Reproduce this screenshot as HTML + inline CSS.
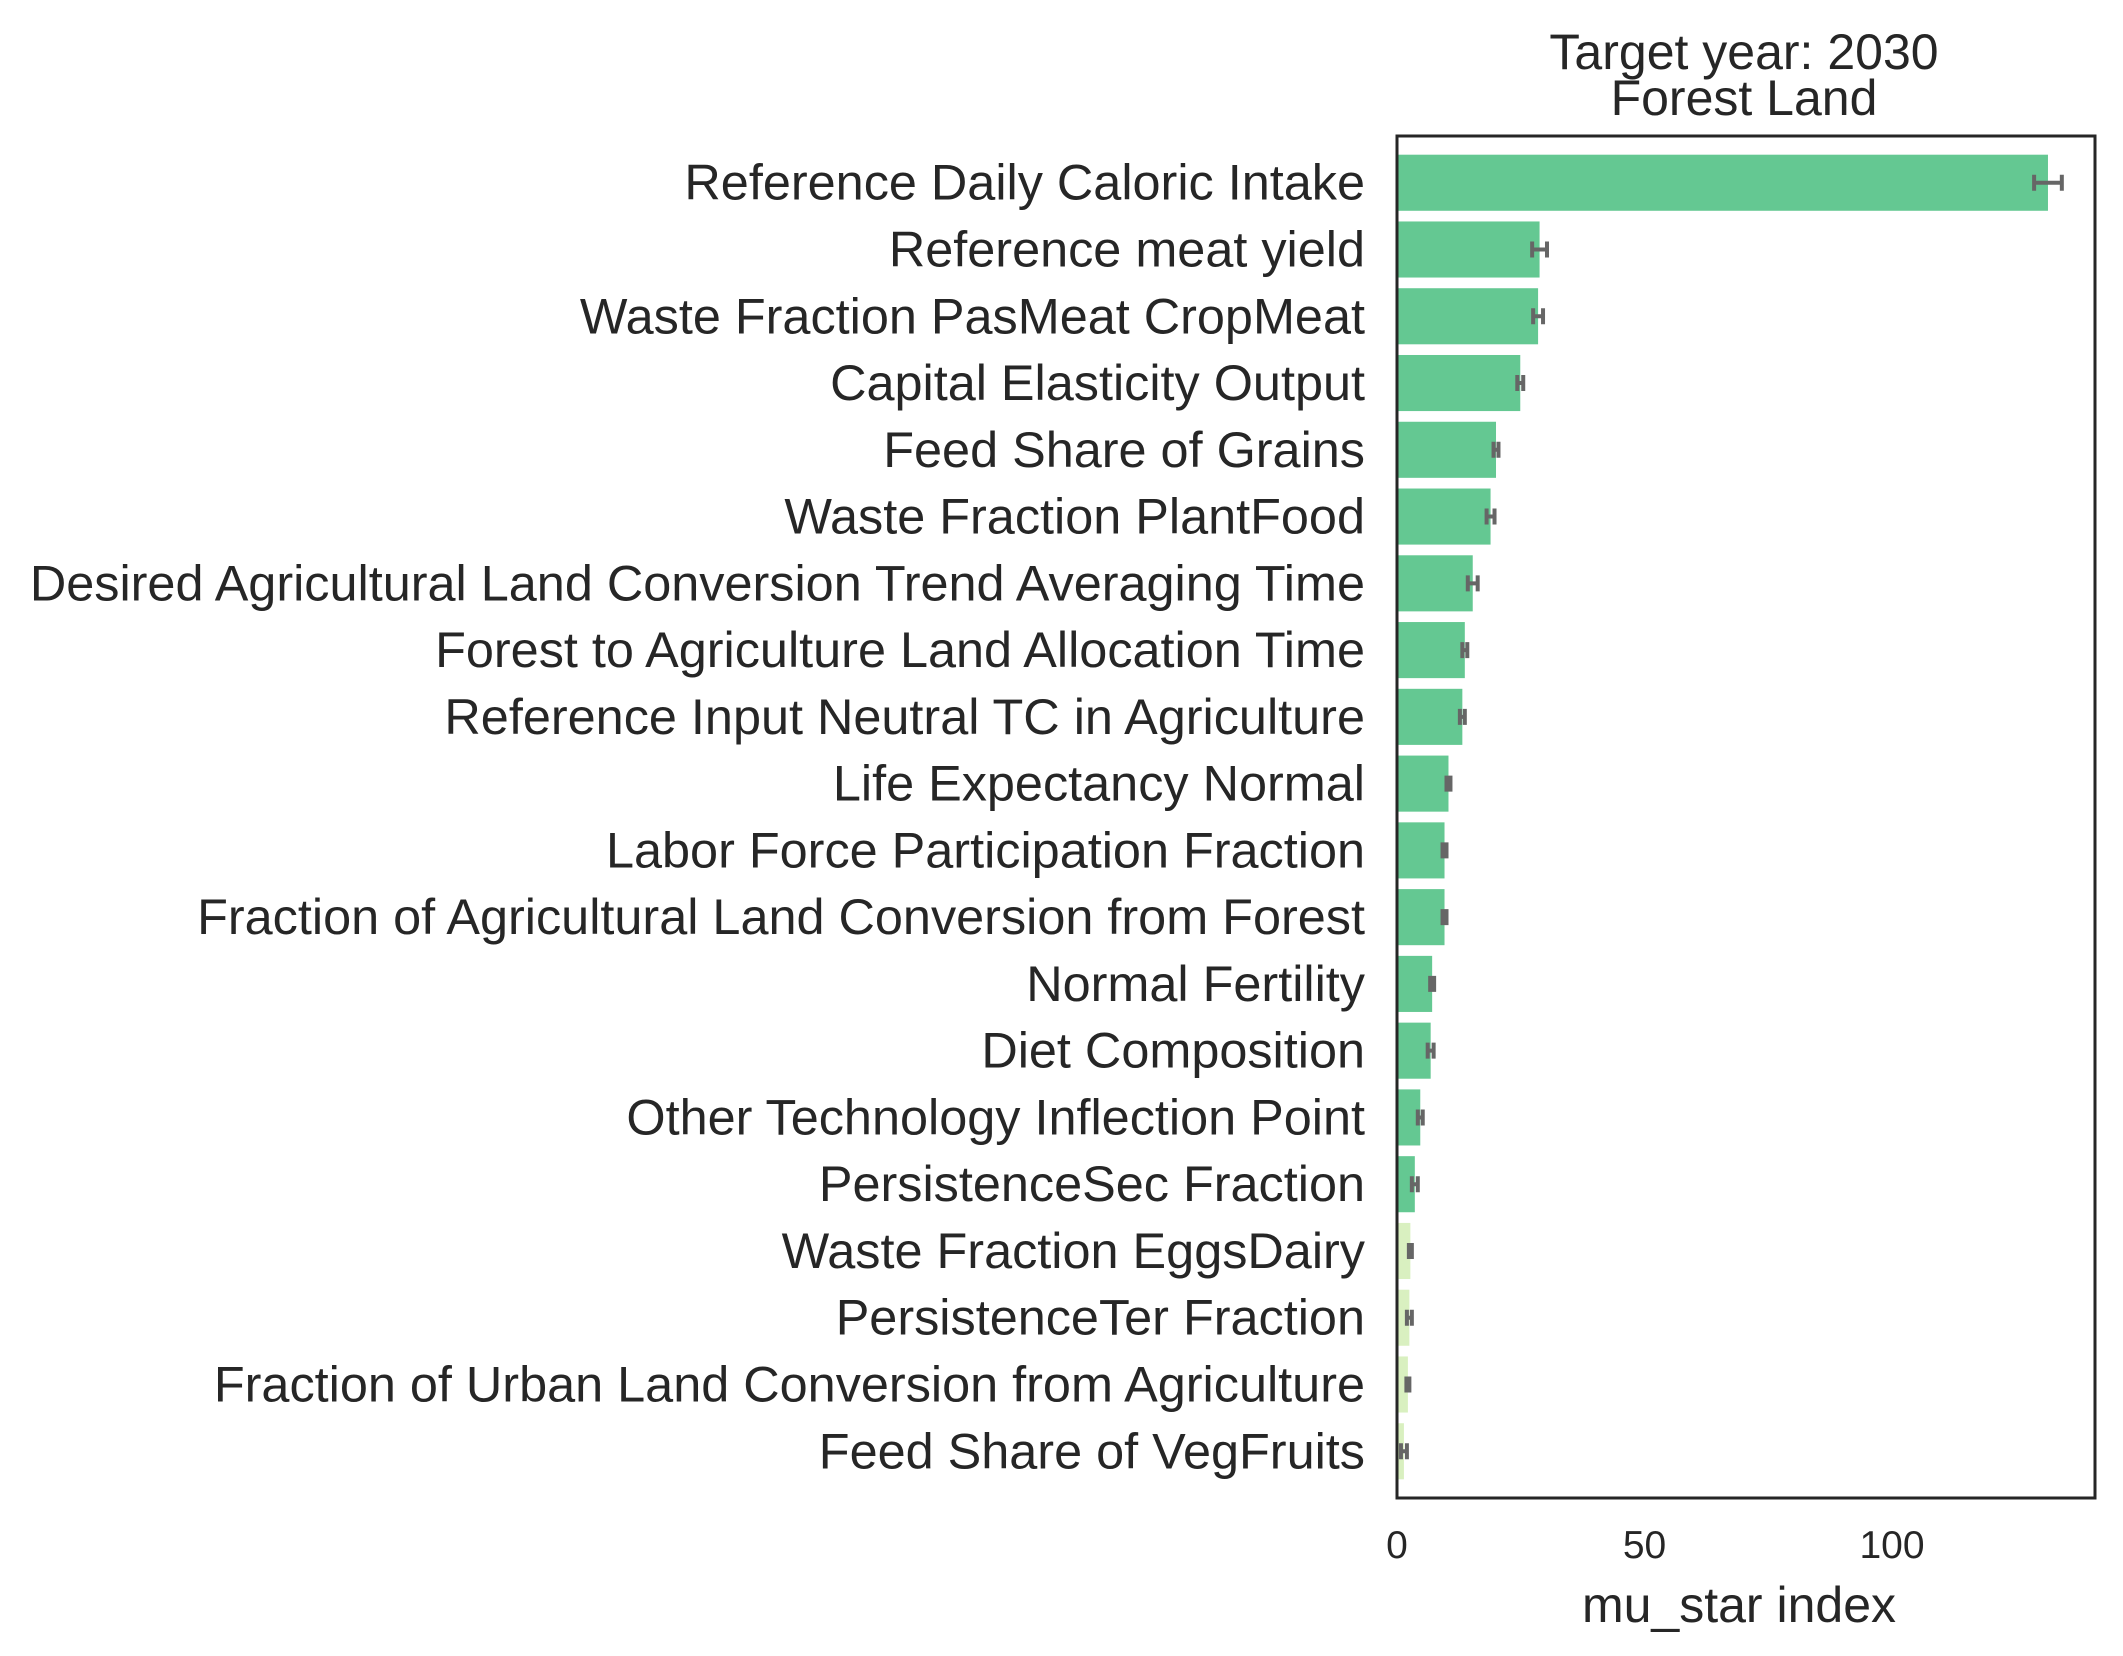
<!DOCTYPE html>
<html><head><meta charset="utf-8"><style>
html,body{margin:0;padding:0;background:#fff;}
svg{display:block;font-family:"Liberation Sans",Arial,sans-serif;}
</style></head><body>
<svg id="chart" width="2123" height="1656" viewBox="0 0 2123 1656" xmlns="http://www.w3.org/2000/svg">
<rect width="2123" height="1656" fill="#fff"/>
<g id="plot"></g>
</svg>
<script>
const categories = ["Reference Daily Caloric Intake","Reference meat yield","Waste Fraction PasMeat CropMeat","Capital Elasticity Output","Feed Share of Grains","Waste Fraction PlantFood","Desired Agricultural Land Conversion Trend Averaging Time","Forest to Agriculture Land Allocation Time","Reference Input Neutral TC in Agriculture","Life Expectancy Normal","Labor Force Participation Fraction","Fraction of Agricultural Land Conversion from Forest","Normal Fertility","Diet Composition","Other Technology Inflection Point","PersistenceSec Fraction","Waste Fraction EggsDairy","PersistenceTer Fraction","Fraction of Urban Land Conversion from Agriculture","Feed Share of VegFruits"];
const muStar = [131.5,28.8,28.5,24.9,20.0,18.9,15.3,13.7,13.2,10.4,9.6,9.6,7.1,6.8,4.7,3.6,2.7,2.5,2.2,1.4];
const muStarConf = [2.8,1.5,1.0,0.6,0.5,0.8,1.0,0.5,0.5,0.4,0.4,0.4,0.4,0.6,0.5,0.6,0.3,0.5,0.3,0.6];
const highlight = [1,1,1,1,1,1,1,1,1,1,1,1,1,1,1,1,0,0,0,0];
const xTicks = [0,50,100];

const NS="http://www.w3.org/2000/svg";
const L=1397,R=2095,T=136,B=1498;
const xMax=141;
const x=v=>L+v/xMax*(R-L);
const y0=-0.7,y1=categories.length-0.3;
const y=i=>T+(i-y0)/(y1-y0)*(B-T);
const bh=0.84*(y(1)-y(0));
const g=document.getElementById('plot');
function el(t,a){const e=document.createElementNS(NS,t);for(const k in a)e.setAttribute(k,a[k]);g.appendChild(e);return e;}

categories.forEach((c,i)=>{
  const r=el('rect',{x:L,y:y(i)-bh/2,width:x(muStar[i])-L,height:bh,fill:highlight[i]?'#64c892':'#d9f0c0'});
  
  
  const lo=x(muStar[i]-muStarConf[i]),hi=x(muStar[i]+muStarConf[i]),cy=y(i);
  const e=el('path',{d:`M${lo},${cy}H${hi}M${lo},${cy-8}V${cy+8}M${hi},${cy-8}V${cy+8}`,stroke:'#666',"stroke-width":4,fill:'none'});
  
  
  const t=el('text',{x:1365,y:cy+17,"text-anchor":'end',"font-size":50.4,fill:'#262626'});
  t.textContent=c;
  
  
});
xTicks.forEach(v=>{
  const t=el('text',{x:x(v),y:1558,"text-anchor":'middle',"font-size":39,fill:'#262626'});
  t.textContent=v;
  
  
});
const fr=el('rect',{x:L,y:T,width:R-L,height:B-T,fill:'none',stroke:'#262626',"stroke-width":3});


const xl=el('text',{x:(L+R)/2-7,y:1622,"text-anchor":'middle',"font-size":50,fill:'#262626'});
xl.textContent='mu_star index';


const t1=el('text',{x:1744,y:69,"text-anchor":'middle',"font-size":50,fill:'#262626'});
t1.textContent='Target year: 2030';


const t2=el('text',{x:1744,y:115,"text-anchor":'middle',"font-size":50,fill:'#262626'});
t2.textContent='Forest Land';


</script>
</body></html>
